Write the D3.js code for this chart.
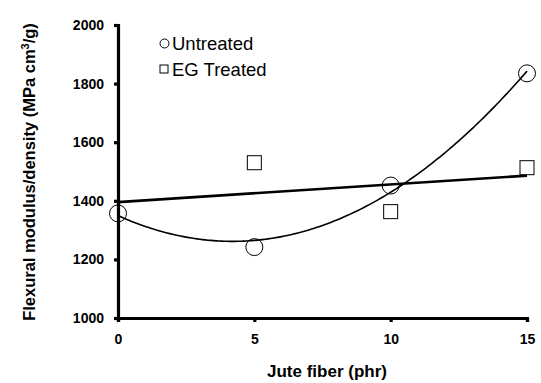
<!DOCTYPE html>
<html>
<head>
<meta charset="utf-8">
<script src="https://cdn.jsdelivr.net/npm/d3@7"></script>
<style>
  body { margin: 0; background: #fff; }
  text { font-family: "Liberation Sans", Arial, sans-serif; }
</style>
</head>
<body>
<div class="chart"></div>
<script>
// fiber loading (phr)
var fiber = [0, 5, 10, 15];
// flexural modulus / density
var untreated = [1357, 1242, 1452, 1835];
// EG treated shares the 0 phr control sample with untreated
var egTreated = [1357, 1530, 1363, 1513];
var yTicks = [1000, 1200, 1400, 1600, 1800, 2000];
var xTicks = [0, 5, 10, 15];

var width = 541, height = 383;
var margin = {top: 25, right: 14, bottom: 65, left: 118};

var svg = d3.select('.chart').append('svg')
  .attr('width', width)
  .attr('height', height);

var x = d3.scaleLinear().domain([0, 15]).range([margin.left, width - margin.right]);
var y = d3.scaleLinear().domain([1000, 2000]).range([height - margin.bottom, margin.top]);

// least squares polynomial fit (solves normal equations)
function polyfit(xs, ys, order) {
  var n = order + 1;
  var A = [], b = [];
  for (var i = 0; i < n; i++) {
    A.push([]);
    for (var j = 0; j < n; j++) {
      A[i].push(d3.sum(xs, function(v) { return Math.pow(v, i + j); }));
    }
    b.push(d3.sum(xs, function(v, k) { return Math.pow(v, i) * ys[k]; }));
  }
  // gaussian elimination
  for (var c = 0; c < n; c++) {
    for (var r = c + 1; r < n; r++) {
      var f = A[r][c] / A[c][c];
      for (var k = c; k < n; k++) A[r][k] -= f * A[c][k];
      b[r] -= f * b[c];
    }
  }
  var coef = new Array(n);
  for (var r2 = n - 1; r2 >= 0; r2--) {
    var s = b[r2];
    for (var k2 = r2 + 1; k2 < n; k2++) s -= A[r2][k2] * coef[k2];
    coef[r2] = s / A[r2][r2];
  }
  return function(v) {
    return d3.sum(coef, function(cf, p) { return cf * Math.pow(v, p); });
  };
}

var quad = polyfit(fiber, untreated, 2);
var lin = polyfit(fiber, egTreated, 1);

var xs = d3.range(0, 15.001, 0.1);

// trend lines
svg.append('path')
  .datum(xs)
  .attr('fill', 'none')
  .attr('stroke', '#000')
  .attr('stroke-width', 1.6)
  .attr('d', d3.line().x(function(d) { return x(d); }).y(function(d) { return y(quad(d)); }));

svg.append('path')
  .datum([0, 15])
  .attr('fill', 'none')
  .attr('stroke', '#000')
  .attr('stroke-width', 2.6)
  .attr('d', d3.line().x(function(d) { return x(d); }).y(function(d) { return y(lin(d)); }));

// axes
var yAxis = svg.append('g')
  .attr('transform', 'translate(' + margin.left + ',0)')
  .call(d3.axisLeft(y).tickValues(yTicks).tickSize(4).tickPadding(10).tickFormat(d3.format('d')));
var xAxis = svg.append('g')
  .attr('transform', 'translate(0,' + (height - margin.bottom) + ')')
  .call(d3.axisBottom(x).tickValues(xTicks).tickSize(4).tickPadding(10).tickFormat(d3.format('d')));

[yAxis, xAxis].forEach(function(g) {
  g.select('.domain').attr('stroke-width', 3.2).attr('stroke', '#000');
  g.selectAll('.tick line').attr('stroke-width', 3.2).attr('stroke', '#000');
  g.selectAll('.tick text')
    .attr('font-family', '"Liberation Sans", Arial, sans-serif')
    .attr('font-size', 14)
    .attr('font-weight', 'bold')
    .attr('fill', '#000');
});
xAxis.selectAll('.tick text').attr('dy', '0.85em');

// markers
var eg = fiber.map(function(f, i) { return [f, egTreated[i]]; }).filter(function(d) { return d[0] > 0; });
svg.append('g').selectAll('rect')
  .data(eg)
  .enter().append('rect')
  .attr('x', function(d) { return x(d[0]) - 7; })
  .attr('y', function(d) { return y(d[1]) - 7; })
  .attr('width', 14)
  .attr('height', 14)
  .attr('fill', '#fff')
  .attr('stroke', '#000')
  .attr('stroke-width', 1);

svg.append('g').selectAll('circle')
  .data(fiber.map(function(f, i) { return [f, untreated[i]]; }))
  .enter().append('circle')
  .attr('cx', function(d) { return x(d[0]); })
  .attr('cy', function(d) { return y(d[1]); })
  .attr('r', 8.5)
  .attr('fill', 'none')
  .attr('stroke', '#000')
  .attr('stroke-width', 1);

// legend
var legend = svg.append('g');
legend.append('circle')
  .attr('cx', 164.5).attr('cy', 43.5).attr('r', 4.5)
  .attr('fill', '#fff').attr('stroke', '#000').attr('stroke-width', 1);
legend.append('text')
  .attr('x', 172).attr('y', 49.5)
  .attr('font-size', 18.5)
  .text('Untreated');
legend.append('rect')
  .attr('x', 160).attr('y', 65).attr('width', 8).attr('height', 8)
  .attr('fill', '#fff').attr('stroke', '#000').attr('stroke-width', 1);
legend.append('text')
  .attr('x', 172).attr('y', 76)
  .attr('font-size', 18.5)
  .text('EG Treated');

// axis titles
svg.append('text')
  .attr('x', 327).attr('y', 377)
  .attr('text-anchor', 'middle')
  .attr('font-size', 17)
  .attr('font-weight', 'bold')
  .text('Jute fiber (phr)');

var yt = svg.append('text')
  .attr('transform', 'translate(35,172) rotate(-90)')
  .attr('text-anchor', 'middle')
  .attr('font-size', 16.5)
  .attr('font-weight', 'bold');
yt.append('tspan').text('Flexural modulus/density (MPa cm');
yt.append('tspan').attr('dy', -6).attr('font-size', 11).text('3');
yt.append('tspan').attr('dy', 6).text('/g)');
</script>
</body>
</html>
